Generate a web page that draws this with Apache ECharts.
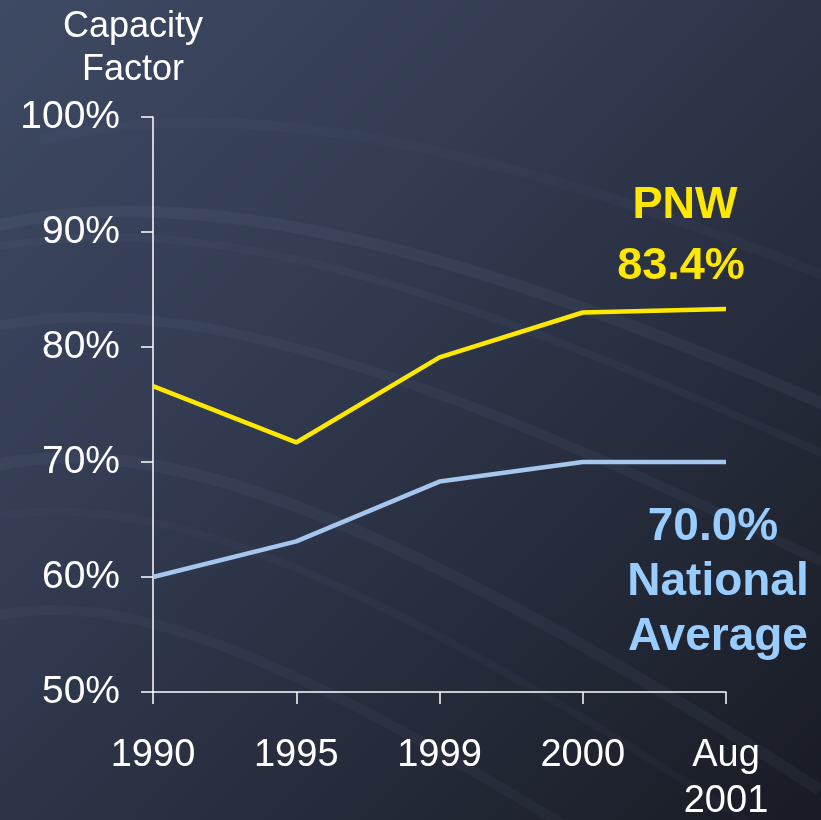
<!DOCTYPE html>
<html>
<head>
<meta charset="utf-8">
<script src="https://cdn.jsdelivr.net/npm/echarts@6/dist/echarts.min.js"></script>
<style>
html,body{margin:0;padding:0;background:#2a3142;}
#chart{width:821px;height:820px;}
</style>
</head>
<body>
<div id="chart"></div>
<script>
const categories = ['1990', '1995', '1999', '2000', 'Aug\n2001'];
const pnwValues = [76.6, 71.7, 79.1, 83.0, 83.3];
const nationalValues = [60.0, 63.1, 68.3, 70.0, 70.0];
const yTickLabels = ['50%', '60%', '70%', '80%', '90%', '100%'];

const chart = echarts.init(document.getElementById('chart'), null, {renderer: 'canvas'});

const bg = {
  type: 'linear', x: 0, y: 0, x2: 1, y2: 1,
  colorStops: [
    {offset: 0, color: '#3e4963'},
    {offset: 0.35, color: '#333c53'},
    {offset: 0.65, color: '#272d3d'},
    {offset: 1, color: '#181b24'}
  ]
};

function wave(x1, y1, cx1, cy1, cx2, cy2, x2, y2, op, w) {
  return {
    type: 'bezierCurve', silent: true, z: -10,
    shape: {x1: x1, y1: y1, cpx1: cx1, cpy1: cy1, cpx2: cx2, cpy2: cy2, x2: x2, y2: y2},
    style: {fill: null, stroke: 'rgba(150,165,205,' + op + ')', lineWidth: w,
            shadowBlur: 14, shadowColor: 'rgba(150,165,205,' + op + ')'}
  };
}

const font = '"Liberation Sans", Arial, sans-serif';

chart.setOption({
  backgroundColor: bg,
  animation: false,
  grid: {left: 153, right: 95, top: 117, bottom: 128, containLabel: false, outerBoundsMode: 'none'},
  xAxis: {
    type: 'category',
    data: categories,
    boundaryGap: false,
    axisLine: {show: true, lineStyle: {color: '#ffffff', width: 1.5}},
    axisTick: {show: true, length: 12, alignWithLabel: true, lineStyle: {color: '#ffffff', width: 1.5}},
    axisLabel: {color: '#ffffff', fontSize: 38, fontFamily: font, margin: 41, lineHeight: 46, interval: 0},
    splitLine: {show: false}
  },
  yAxis: {
    type: 'value',
    min: 50, max: 100, interval: 10,
    axisLine: {show: true, lineStyle: {color: '#ffffff', width: 1.5}},
    axisTick: {show: true, length: 12, lineStyle: {color: '#ffffff', width: 1.5}},
    axisLabel: {
      color: '#ffffff', fontSize: 39, fontFamily: font, margin: 33,
      formatter: function (v) { return yTickLabels[Math.round((v - 50) / 10)]; }
    },
    splitLine: {show: false}
  },
  series: [
    {
      name: 'PNW', type: 'line', data: pnwValues, symbol: 'none',
      lineStyle: {color: '#ffe800', width: 4.5}, z: 3
    },
    {
      name: 'National Average', type: 'line', data: nationalValues, symbol: 'none',
      lineStyle: {color: '#a6c6ee', width: 4.5}, z: 3
    }
  ],
  graphic: [
    wave(-20, 230, 200, 170, 500, 260, 860, 420, 0.07, 12),
    wave(-20, 250, 220, 200, 480, 300, 860, 470, 0.05, 8),
    wave(-20, 330, 180, 280, 450, 380, 860, 580, 0.06, 10),
    wave(-20, 470, 150, 420, 400, 520, 820, 790, 0.06, 12),
    wave(-20, 520, 150, 480, 380, 580, 760, 830, 0.04, 8),
    wave(-20, 620, 120, 580, 300, 660, 620, 860, 0.05, 10),
    wave(40, 140, 250, 90, 520, 150, 860, 290, 0.04, 10),
    {
      type: 'text', silent: true,
      style: {x: 133, y: 6, text: 'Capacity\nFactor', fill: '#ffffff', font: '36px ' + font, textAlign: 'center', lineHeight: 43}
    },
    {type: 'text', silent: true, style: {x: 685, y: 228, text: 'PNW', fill: '#ffe800', font: 'bold 45px ' + font, textAlign: 'center', textVerticalAlign: 'bottom'}},
    {type: 'text', silent: true, style: {x: 681, y: 289, text: '83.4%', fill: '#ffe800', font: 'bold 45px ' + font, textAlign: 'center', textVerticalAlign: 'bottom'}},
    {type: 'text', silent: true, style: {x: 713, y: 550, text: '70.0%', fill: '#99ccff', font: 'bold 46px ' + font, textAlign: 'center', textVerticalAlign: 'bottom'}},
    {type: 'text', silent: true, style: {x: 718, y: 605, text: 'National', fill: '#99ccff', font: 'bold 46px ' + font, textAlign: 'center', textVerticalAlign: 'bottom'}},
    {type: 'text', silent: true, style: {x: 718, y: 660, text: 'Average', fill: '#99ccff', font: 'bold 46px ' + font, textAlign: 'center', textVerticalAlign: 'bottom'}}
  ]
});
</script>
</body>
</html>
